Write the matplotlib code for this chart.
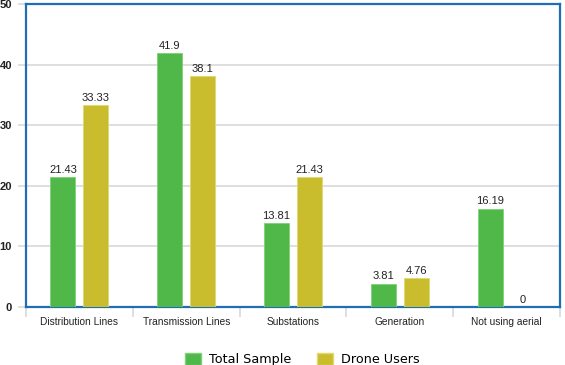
import matplotlib
matplotlib.use("Agg")
import matplotlib.pyplot as plt
import numpy as np
from matplotlib.patches import Patch

categories = ["Distribution Lines", "Transmission Lines", "Substations", "Generation", "Not using aerial"]
total_sample = [21.43, 41.9, 13.81, 3.81, 16.19]
drone_users = [33.33, 38.1, 21.43, 4.76, 0]
total_labels = ["21.43", "41.9", "13.81", "3.81", "16.19"]
drone_labels = ["33.33", "38.1", "21.43", "4.76", "0"]
series_names = ["Total Sample", "Drone Users"]
yticks = [0, 10, 20, 30, 40, 50]

green = "#4fb848"
yellow = "#c9bd2e"
blue = "#1f6db3"
sans = ["Liberation Sans", "DejaVu Sans"]

fig = plt.figure(figsize=(5.65, 3.65), dpi=100)
ax = fig.add_axes([26/565, 1 - 307/365, (560-26)/565, (307-4)/365])

x = np.arange(len(categories))
w = 25/107
off = 16.5/107
ax.bar(x - off, total_sample, w, color=green, edgecolor="#7fd077", linewidth=0.6, zorder=3)
ax.bar(x + off, drone_users, w, color=yellow, edgecolor="#e0d870", linewidth=0.6, zorder=3)
for i in range(len(categories)):
    ax.text(x[i] - off, total_sample[i] + 0.4, total_labels[i], ha="center", va="bottom", fontsize=8, color="#222222", family=sans)
    ax.text(x[i] + off, drone_users[i] + 0.4, drone_labels[i], ha="center", va="bottom", fontsize=8, color="#222222", family=sans)

ax.set_xlim(-0.5, len(categories) - 0.5)
ax.set_ylim(0, 50)
ax.set_yticks(yticks)
ax.set_yticklabels([str(t) for t in yticks], fontsize=8, color="#222222", family=sans, fontweight="bold")
ax.yaxis.grid(True, color="#d9d9d9", linewidth=1.2, zorder=0)
ax.tick_params(axis="y", length=6, color="#d9d9d9", width=1.2, pad=4)

ax.set_xticks(x)
ax.set_xticklabels(categories, fontsize=7.3, color="#222222", family=sans)
ax.tick_params(axis="x", length=0, pad=7)
ax.set_xticks(np.arange(-0.5, len(categories), 1), minor=True)
ax.tick_params(axis="x", which="minor", length=7, color="#d9d9d9", width=1.2)

for s in ax.spines.values():
    s.set_color(blue)
    s.set_linewidth(1.6)

handles = [Patch(facecolor=green, edgecolor="#7fd077"), Patch(facecolor=yellow, edgecolor="#e0d870")]
fig.legend(handles, series_names, loc="lower center", bbox_to_anchor=(0.535, -0.035), ncol=2, frameon=False,
           fontsize=9.2, handlelength=1.3, handleheight=1.1, columnspacing=2.0, handletextpad=0.6)

fig.savefig("out.png", dpi=100)
